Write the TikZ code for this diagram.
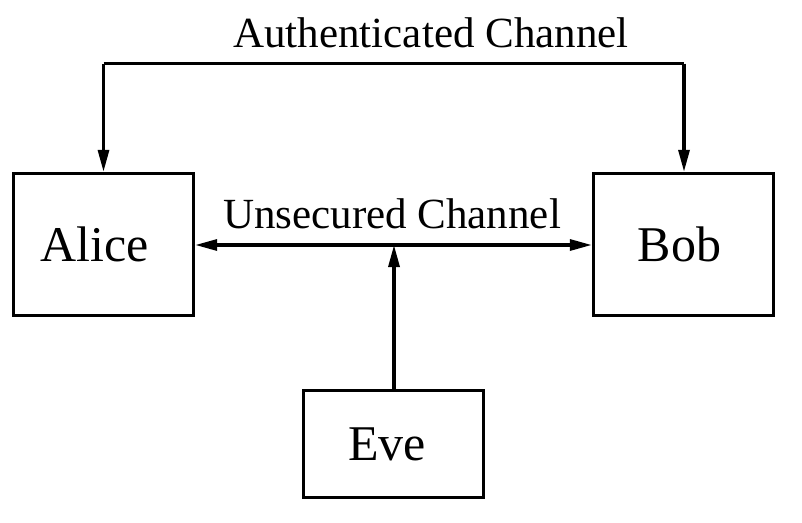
\documentclass[tikz,border=0pt]{standalone}
\usepackage{fontspec}
\setmainfont{Liberation Serif}
\usetikzlibrary{arrows.meta}
\begin{document}
\begin{tikzpicture}[x=1pt,y=-1pt,
  box/.style={draw,line width=3.4pt,minimum width=180pt,font=\fontsize{50}{50}\selectfont,inner sep=0pt},
  conn/.style={line width=3.2pt,-{Triangle[length=22pt,width=11pt]}},
  lbl/.style={font=\fontsize{43}{43}\selectfont,anchor=base,inner sep=0pt}]
\useasboundingbox (0,0) rectangle (802,522);
\node[box,minimum height=142pt] (alice) at (103.5,244.5) {Alice\kern17pt};
\node[box,minimum height=142pt] (bob) at (683.5,244.5) {Bob\kern8pt};
\node[box,minimum height=107pt] (eve) at (393.5,444) {Eve\kern13pt};
\coordinate (tl) at (103.5,63.5);
\coordinate (tr) at (684,63.5);
\coordinate (mid) at (394,245);
\draw[line width=3.2pt] (tl) -- (tr);
\draw[conn] (tl) -- (alice.north);
\draw[conn] (tr) -- (bob.north -| tr);
\draw[conn] (mid) -- (alice.east |- mid);
\draw[conn] (mid) -- (bob.west |- mid);
\draw[conn] (eve.north -| mid) -- (mid);
\node[lbl] (auth) at (431,47) {Authenticated Channel};
\node[lbl] (unsec) at (392,228) {Unsecured Channel};
\end{tikzpicture}
\end{document}
